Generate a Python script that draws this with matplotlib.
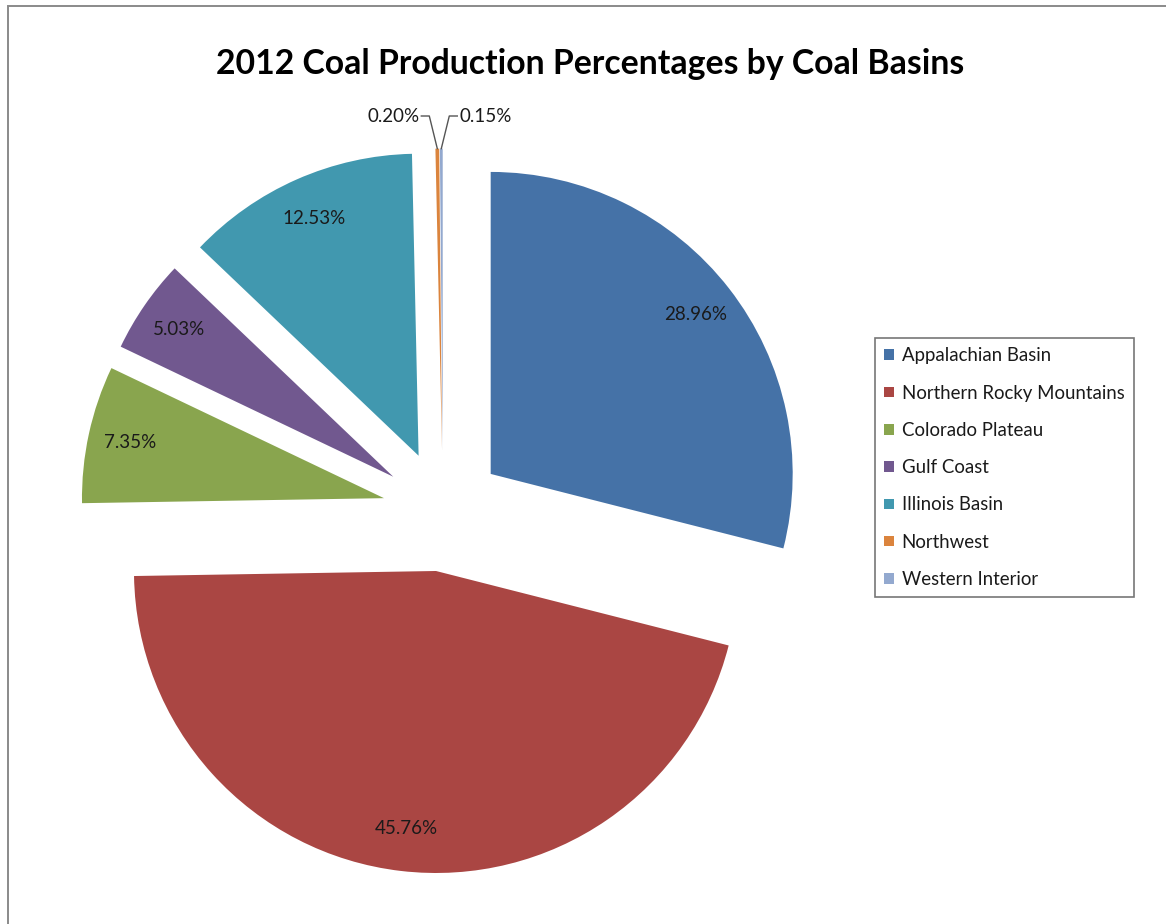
import matplotlib.pyplot as plt
import numpy as np
from matplotlib.patches import Rectangle, Patch

# data
basins = ["Appalachian Basin", "Northern Rocky Mountains", "Colorado Plateau",
          "Gulf Coast", "Illinois Basin", "Northwest", "Western Interior"]
shares = [28.96, 45.76, 7.35, 5.03, 12.53, 0.20, 0.15]
colors = ["#4572A7", "#AA4643", "#89A54E", "#71588F", "#4198AF", "#DB843D", "#93A9CF"]

plt.rcParams['font.family'] = ['Lato', 'DejaVu Sans']

W, H = 1166, 924
fig = plt.figure(figsize=(W / 100, H / 100), dpi=100)

# outer chart frame (cut by the page on right / bottom)
fig.patches.append(Rectangle((8 / W, -0.1), 1.2, 1 - 6 / H + 0.1, transform=fig.transFigure,
                             fill=False, edgecolor="#8a8a8a", linewidth=1.4))

ax = fig.add_axes([0, 0, 1, 1])
R = 302.0  # pie radius in pixels
cx, cy = 443.0, 511.0  # pie centre in pixels (from top-left)

wedges, texts, autotexts = ax.pie(
    shares, colors=colors, explode=[0.2] * len(shares), startangle=90, counterclock=False,
    autopct=lambda p: "", pctdistance=0.86, radius=1.0,
    wedgeprops=dict(linewidth=0), textprops=dict(fontsize=13.5, color="#1a1a1a"))

# inside labels show the values as given (not renormalised)
for t, p in zip(autotexts, shares):
    if p >= 1:
        t.set_text(f"{p:.2f}%")

ax.set_aspect("auto")
ax.set_xlim(-cx / R, (W - cx) / R)
ax.set_ylim(-(H - cy) / R, cy / R)
ax.axis("off")

# labels for the tiny slices, with leader lines
ty = (cy - 116) / R
for w, p, side in [(wedges[5], shares[5], -1), (wedges[6], shares[6], 1)]:
    mid = np.deg2rad((w.theta1 + w.theta2) / 2)
    tipx = w.center[0] + w.r * np.cos(mid)
    tipy = w.center[1] + w.r * np.sin(mid)
    tx = tipx + side * 16 / R
    ex = tipx + side * 8 / R
    ax.plot([tx, ex, tipx], [ty, ty, tipy], color="#555555", lw=1.0)
    ax.text(tx + side * 2 / R, ty, f"{p:.2f}%", fontsize=13.5, color="#1a1a1a",
            ha="left" if side > 0 else "right", va="center")

fig.text(590 / W, 1 - 64 / H, "2012 Coal Production Percentages by Coal Basins",
         ha="center", va="center", fontsize=24.3, fontweight="bold", color="#000000")

handles = [Patch(facecolor=c, edgecolor="none") for c in colors]
leg = fig.legend(handles, basins, loc="upper left", bbox_to_anchor=(875 / W, 1 - 338 / H),
                 fontsize=13.4, frameon=True, fancybox=False, handlelength=0.5, handleheight=0.5,
                 handletextpad=0.43, labelspacing=1.09, borderpad=0.5, borderaxespad=0)
leg.get_frame().set_edgecolor("#555555")
leg.get_frame().set_linewidth(1.2)
for t in leg.get_texts():
    t.set_color("#1a1a1a")

fig.savefig("out.png", dpi=100)
